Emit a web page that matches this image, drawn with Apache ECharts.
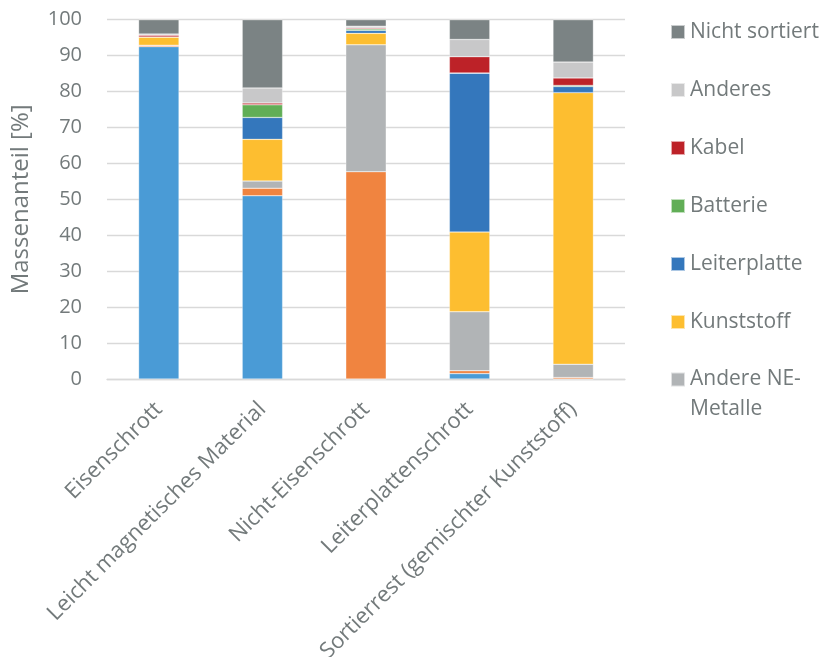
<!DOCTYPE html>
<html><head><meta charset="utf-8">
<script src="https://cdn.jsdelivr.net/npm/echarts@6/dist/echarts.min.js"></script>
<style>html,body{margin:0;padding:0;background:#fff}#c{width:825px;height:657px}</style>
</head><body><div id="c"></div>
<script>
var categories = ['Eisenschrott','Leicht magnetisches Material','Nicht-Eisenschrott','Leiterplattenschrott','Sortierrest (gemischter Kunststoff)'];
var yTicks = [0,10,20,30,40,50,60,70,80,90,100];
var eisen        = [92.5, 51.0, 0.0,  1.5,  0.0];
var aluminium    = [0.4,  2.1,  57.7, 0.8,  0.4];
var andereNE     = [0.0,  2.0,  35.3, 16.4, 3.7];
var kunststoff   = [2.3,  11.6, 3.2,  22.2, 75.6];
var leiterplatte = [0.0,  6.1,  0.8,  44.2, 1.7];
var batterie     = [0.0,  3.5,  0.4,  0.1,  0.3];
var kabel        = [0.5,  0.5,  0.3,  4.5,  2.1];
var anderes      = [0.3,  4.2,  0.5,  4.8,  4.4];
var nichtSortiert= [4.0,  19.0, 1.8,  5.5,  11.8];

var seriesDefs = [
  ['Eisen', eisen, '#4A9BD6'],
  ['Aluminium', aluminium, '#F08440'],
  ['Andere NE-Metalle', andereNE, '#B1B4B6'],
  ['Kunststoff', kunststoff, '#FDBE30'],
  ['Leiterplatte', leiterplatte, '#3477BC'],
  ['Batterie', batterie, '#61AE56'],
  ['Kabel', kabel, '#BD2228'],
  ['Anderes', anderes, '#C8C8C9'],
  ['Nicht sortiert', nichtSortiert, '#7B8384']
];
var legendMain = ['Nicht sortiert','Anderes','Kabel','Batterie','Leiterplatte','Kunststoff'];
var legendWrapped = ['Andere NE-Metalle'];
var txt = '#737A7B';
var font = 'Open Sans';
var chart = echarts.init(document.getElementById('c'), null, {renderer:'canvas'});
chart.setOption({
  animation:false,
  textStyle:{fontFamily:font},
  grid:{left:107, right:200, top:19.7, bottom:278, containLabel:false, outerBoundsMode:'none'},
  legend:[{
    orient:'vertical', left:665, top:15, icon:'rect', itemWidth:14, itemHeight:14, itemGap:34,
    textStyle:{fontFamily:font, fontSize:21, color:txt, lineHeight:24},
    data:legendMain
  },{
    orient:'vertical', left:665, top:329.5, icon:'rect', itemWidth:14, itemHeight:14,
    textStyle:{fontFamily:font, fontSize:21, color:txt, lineHeight:30},
    formatter:function(n){ return '\nAndere NE-\nMetalle'; },
    data:legendWrapped
  }],
  xAxis:{
    type:'category', data:categories,
    axisTick:{show:false},
    axisLine:{lineStyle:{color:'#D9D9D9', width:1.3}},
    axisLabel:{rotate:45, interval:0, fontFamily:font, fontSize:22, color:txt, margin:27}
  },
  yAxis:{
    type:'value', min:0, max:100, interval:10,
    name:'Massenanteil [%]', nameLocation:'middle', nameGap:74,
    nameTextStyle:{fontFamily:font, fontSize:24, color:txt},
    axisLine:{show:false}, axisTick:{show:false},
    axisLabel:{fontFamily:font, fontSize:20, color:txt, margin:25,
      formatter:function(v){return yTicks.indexOf(v)>=0? String(v):'';}},
    splitLine:{lineStyle:{color:'#D9D9D9', width:1.3}}
  },
  series: seriesDefs.map(function(s){
    return {name:s[0], type:'bar', stack:'total', data:s[1], barCategoryGap:'61%',
      itemStyle:{color:s[2], borderColor:'rgba(255,255,255,0.6)', borderWidth:0.5}};
  })
});
</script></body></html>
